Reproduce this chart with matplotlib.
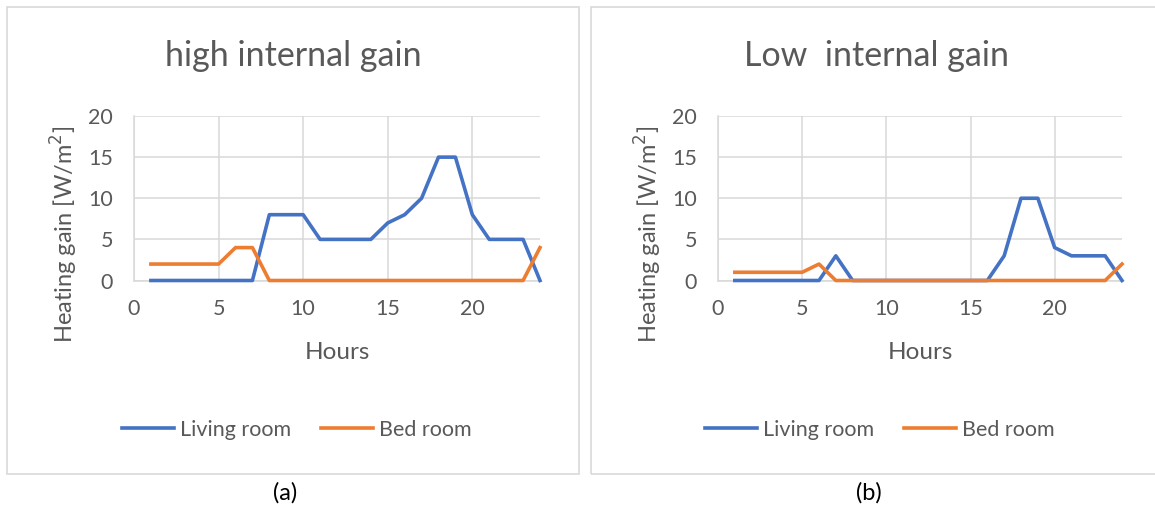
import matplotlib
matplotlib.use("Agg")
import matplotlib.pyplot as plt
from matplotlib.patches import Rectangle
from matplotlib.lines import Line2D

plt.rcParams['font.family'] = ['Lato', 'DejaVu Sans']

hours = list(range(1, 25))
high_living = [0, 0, 0, 0, 0, 0, 0, 8, 8, 8, 5, 5, 5, 5, 7, 8, 10, 15, 15, 8, 5, 5, 5, 0]
high_bed = [2, 2, 2, 2, 2, 4, 4, 0, 0, 0, 0, 0, 0, 0, 0, 0, 0, 0, 0, 0, 0, 0, 0, 4]
low_living = [0, 0, 0, 0, 0, 0, 3, 0, 0, 0, 0, 0, 0, 0, 0, 0, 3, 10, 10, 4, 3, 3, 3, 0]
low_bed = [1, 1, 1, 1, 1, 2, 0, 0, 0, 0, 0, 0, 0, 0, 0, 0, 0, 0, 0, 0, 0, 0, 0, 2]
titles = ["high internal gain", "Low  internal gain"]
panel_labels = ["(a)", "(b)"]
series_names = ["Living room", "Bed room"]
xticks = [0, 5, 10, 15, 20]
yticks = [0, 5, 10, 15, 20]

BLUE = '#4472C4'
ORANGE = '#ED7D31'
GRID = '#D9D9D9'
TEXT = '#595959'

W, H = 1155, 511
fig = plt.figure(figsize=(W / 100, H / 100), dpi=100)

def fx(px):
    return px / W

def fy(py):
    return 1 - py / H

panels = [
    dict(box=(7, 7, 579, 474), ax=(134, 116, 540, 280.5), data=(high_living, high_bed)),
    dict(box=(591, 7, 1162, 474), ax=(718, 116, 1122, 280.5), data=(low_living, low_bed)),
]

for i, p in enumerate(panels):
    bx0, by0, bx1, by1 = p['box']
    fig.patches.append(Rectangle((fx(bx0), fy(by1)), fx(bx1) - fx(bx0), fy(by0) - fy(by1),
                                 transform=fig.transFigure, fill=False, edgecolor=GRID, lw=1.2))
    ax0, ay0, ax1, ay1 = p['ax']
    ax = fig.add_axes([fx(ax0), fy(ay1), fx(ax1) - fx(ax0), fy(ay0) - fy(ay1)])
    living, bed = p['data']
    ax.plot(hours, living, color=BLUE, lw=2.6, solid_joinstyle='round', clip_on=False, zorder=3)
    ax.plot(hours, bed, color=ORANGE, lw=2.6, solid_joinstyle='round', clip_on=False, zorder=3)
    ax.set_xlim(0, 24)
    ax.set_ylim(0, 20)
    ax.set_xticks(xticks)
    ax.set_yticks(yticks)
    ax.grid(True, color=GRID, lw=1.1)
    ax.set_axisbelow(True)
    for s in ['top', 'right']:
        ax.spines[s].set_visible(False)
    for s in ['left', 'bottom']:
        ax.spines[s].set_color(GRID)
        ax.spines[s].set_linewidth(1.1)
    ax.tick_params(length=0, labelsize=15.5, labelcolor=TEXT)
    ax.tick_params(axis='y', pad=15)
    ax.tick_params(axis='x', pad=13)
    ax.set_xlabel("Hours", fontsize=17.5, color=TEXT, labelpad=17)
    ax.set_ylabel("Heating gain [W/m$^2$]", fontsize=17, color=TEXT, va='center')
    axw = ax1 - ax0
    axh = ay1 - ay0
    ax.yaxis.set_label_coords(-70 / axw, (ay1 - 234) / axh)
    cx = (bx0 + bx1) / 2
    fig.text(fx(cx), fy(56), titles[i], ha='center', va='center', fontsize=24.5, color=TEXT)
    handles = [Line2D([], [], color=BLUE, lw=2.6), Line2D([], [], color=ORANGE, lw=2.6)]
    fig.legend(handles, series_names, loc='center', bbox_to_anchor=(fx((ax0 + ax1) / 2 - 40), fy(430)),
               ncol=2, frameon=False, fontsize=15.5, labelcolor=TEXT, handlelength=2.4,
               handletextpad=0.3, columnspacing=1.4)
    fig.text(fx(cx - 8), fy(493), panel_labels[i], ha='center', va='center', fontsize=17, color='black')

fig.savefig("out.png", dpi=100)
